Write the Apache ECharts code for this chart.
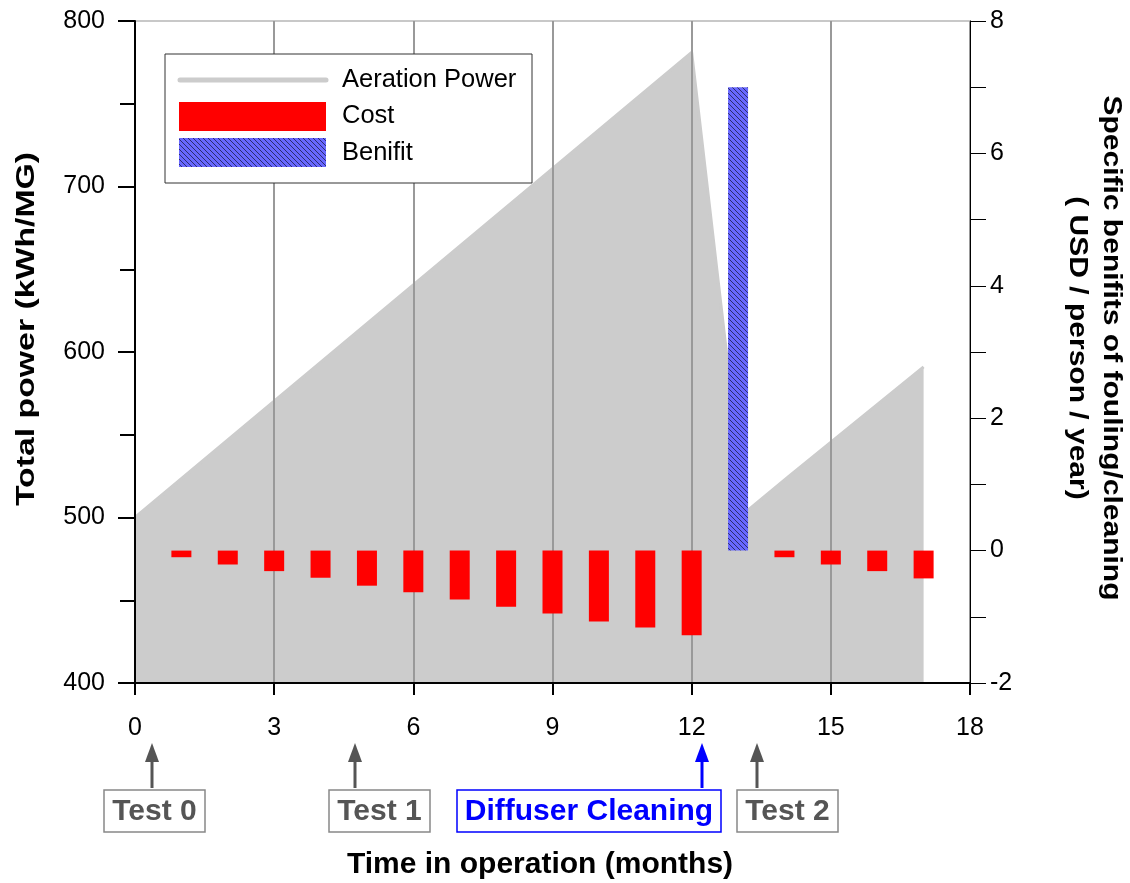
<!DOCTYPE html>
<html>
<head>
<meta charset="utf-8">
<script src="https://cdn.jsdelivr.net/npm/echarts@6/dist/echarts.min.js"></script>
<style>
  html, body { margin: 0; padding: 0; background: #fff; }
  #chart { width: 1130px; height: 883px; }
</style>
</head>
<body>
<div id="chart"></div>
<script>
// aeration power (left axis), vertices
var powerMonths = [0, 12, 13.15, 14.1, 17];
var powerValues = [500, 781, 503, 525, 591];

// cost / benifit bars (right axis)
var costMonths = [0, 1, 2, 3, 4, 5, 6, 7, 8, 9, 10, 11, 12, 13, 14, 15, 16, 17];
var costValues = [0, -0.1, -0.21, -0.31, -0.41, -0.53, -0.63, -0.74, -0.85, -0.95, -1.07, -1.16, -1.28, 0, -0.1, -0.21, -0.31, -0.42];
var benifitMonths = [13];
var benifitValues = [7];

var xTicks = [0, 3, 6, 9, 12, 15, 18];
var leftTicks = [400, 500, 600, 700, 800];
var rightTicks = [-2, 0, 2, 4, 6, 8];

var FONT = "'Liberation Sans', Arial, sans-serif";

// hatch pattern for the benifit bar
function makeHatch() {
  var c = document.createElement("canvas");
  c.width = 5;
  c.height = 5;
  var ctx = c.getContext("2d");
  ctx.fillStyle = "#6868ff";
  ctx.fillRect(0, 0, 5, 5);
  ctx.fillStyle = "#2c2c70";
  for (var i = 0; i < 5; i++) {
    ctx.fillRect(i, i, 1, 1);
  }
  return c;
}
var hatch = { image: makeHatch(), repeat: "repeat" };

function pairs(xs, ys) {
  return xs.map(function (x, i) { return [x, ys[i]]; });
}

// arrows + boxed labels under the x axis
function note(x, boxLeft, boxRight, label, color, border) {
  return [
    { type: "line", z: 10, shape: { x1: x, y1: 788, x2: x, y2: 758 }, style: { stroke: color, lineWidth: 3 } },
    { type: "polygon", z: 10, shape: { points: [[x, 743], [x - 7, 762], [x + 7, 762]] }, style: { fill: color } },
    { type: "rect", z: 10, shape: { x: boxLeft, y: 790, width: boxRight - boxLeft, height: 42 },
      style: { fill: "#fff", stroke: border, lineWidth: 1.5 } },
    { type: "text", z: 11, x: (boxLeft + boxRight) / 2, y: 812,
      style: { text: label, fill: color, font: "bold 30px " + FONT, align: "center", verticalAlign: "middle" } }
  ];
}

var chart = echarts.init(document.getElementById("chart"));

var graphics = [
  // legend box
  { type: "rect", z: 20, shape: { x: 165, y: 54, width: 367, height: 129 }, style: { fill: "#fff", stroke: "#333", lineWidth: 1 } },
  { type: "line", z: 21, shape: { x1: 180, y1: 80, x2: 326, y2: 80 }, style: { stroke: "#cccccc", lineWidth: 5, lineCap: "round" } },
  { type: "rect", z: 21, shape: { x: 179, y: 102, width: 147, height: 29 }, style: { fill: "#ff0000" } },
  { type: "rect", z: 21, shape: { x: 179, y: 138, width: 147, height: 29 }, style: { fill: hatch } },
  { type: "text", z: 21, x: 342, y: 80, style: { text: "Aeration Power", fill: "#000", font: "25.5px " + FONT, verticalAlign: "middle" } },
  { type: "text", z: 21, x: 342, y: 116, style: { text: "Cost", fill: "#000", font: "25.5px " + FONT, verticalAlign: "middle" } },
  { type: "text", z: 21, x: 342, y: 153, style: { text: "Benifit", fill: "#000", font: "25.5px " + FONT, verticalAlign: "middle" } },
  // axis titles (stretched along their length like the original)
  { type: "text", z: 10, x: 27, y: 329, rotation: Math.PI / 2, scaleX: 1.3,
    style: { text: "Total power (kWh/MG)", fill: "#000", font: "bold 26px " + FONT, align: "center", verticalAlign: "middle" } },
  { type: "text", z: 10, x: 1111, y: 348, rotation: -Math.PI / 2, scaleX: 1.2,
    style: { text: "Specific benifits of fouling/cleaning", fill: "#000", font: "bold 25px " + FONT, align: "center", verticalAlign: "middle" } },
  { type: "text", z: 10, x: 1077, y: 348, rotation: -Math.PI / 2, scaleX: 1.2,
    style: { text: "( USD / person / year)", fill: "#000", font: "bold 25px " + FONT, align: "center", verticalAlign: "middle" } },
  { type: "text", z: 10, x: 540, y: 865,
    style: { text: "Time in operation (months)", fill: "#000", font: "bold 30px " + FONT, align: "center", verticalAlign: "middle" } }
]
  .concat(note(152, 104, 205, "Test 0", "#555555", "#888888"))
  .concat(note(355, 329, 430, "Test 1", "#555555", "#888888"))
  .concat(note(702, 457, 721, "Diffuser Cleaning", "#0000ff", "#0000ff"))
  .concat(note(757, 737, 838, "Test 2", "#555555", "#888888"));

var option = {
  animation: false,
  backgroundColor: "#fff",
  textStyle: { fontFamily: FONT },
  grid: {
    left: 135, right: 160, top: 21, bottom: 200,
    show: true, borderColor: "#c8c8c8", borderWidth: 2, backgroundColor: "transparent"
  },
  xAxis: {
    type: "value",
    min: xTicks[0],
    max: xTicks[xTicks.length - 1],
    interval: 3,
    z: 1,
    axisLine: { onZero: false, lineStyle: { color: "#000", width: 2 } },
    axisTick: { length: 12, lineStyle: { color: "#000", width: 2 } },
    axisLabel: { fontSize: 25, color: "#000", margin: 33, fontFamily: FONT },
    splitLine: { show: true, lineStyle: { color: "#999", width: 2 } }
  },
  yAxis: [
    {
      type: "value",
      min: leftTicks[0],
      max: leftTicks[leftTicks.length - 1],
      interval: 100,
      z: 1,
      axisLine: { show: true, onZero: false, lineStyle: { color: "#000", width: 2 } },
      axisTick: { show: true, length: 17, lineStyle: { color: "#000", width: 2 } },
      minorTick: { show: true, splitNumber: 2, length: 15, lineStyle: { color: "#000", width: 2 } },
      axisLabel: { fontSize: 25, color: "#000", margin: 30, fontFamily: FONT },
      splitLine: { show: false }
    },
    {
      type: "value",
      position: "right",
      min: rightTicks[0],
      max: rightTicks[rightTicks.length - 1],
      interval: 2,
      z: 1,
      axisLine: { show: true, onZero: false, lineStyle: { color: "#000", width: 1 } },
      axisTick: { show: true, length: 16, lineStyle: { color: "#000", width: 1 } },
      minorTick: { show: true, splitNumber: 2, length: 16, lineStyle: { color: "#000", width: 1 } },
      axisLabel: { fontSize: 25, color: "#000", margin: 20, fontFamily: FONT },
      splitLine: { show: false }
    }
  ],
  series: [
    {
      name: "Aeration Power",
      type: "line",
      yAxisIndex: 0,
      z: 0,
      symbol: "none",
      data: pairs(powerMonths, powerValues),
      lineStyle: { color: "#cccccc", width: 3 },
      areaStyle: { color: "#cccccc", opacity: 1, origin: "start" }
    },
    {
      name: "Cost",
      type: "bar",
      yAxisIndex: 1,
      z: 3,
      barWidth: 20,
      barGap: "-100%",
      data: pairs(costMonths, costValues),
      itemStyle: { color: "#ff0000" }
    },
    {
      name: "Benifit",
      type: "bar",
      yAxisIndex: 1,
      z: 4,
      barWidth: 20,
      barGap: "-100%",
      data: pairs(benifitMonths, benifitValues),
      itemStyle: { color: hatch }
    }
  ],
  graphic: graphics
};

chart.setOption(option);
</script>
</body>
</html>
